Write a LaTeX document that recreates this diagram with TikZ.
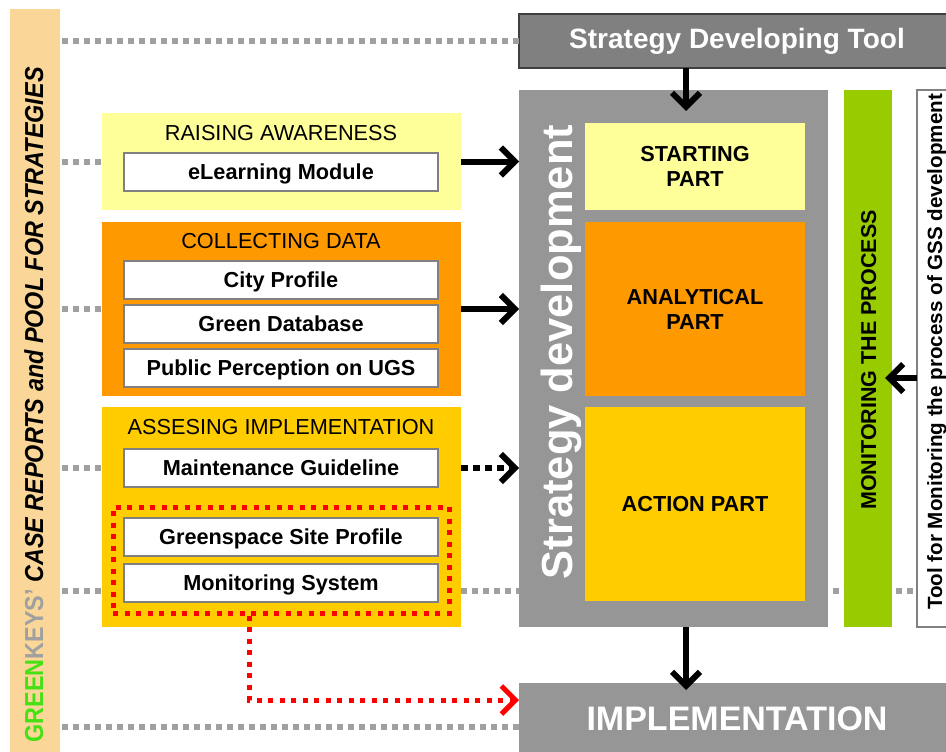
\documentclass[tikz,border=0pt]{standalone}
\usepackage{fontspec}
\setmainfont{Liberation Sans}
\usetikzlibrary{arrows.meta}
\usetikzlibrary{positioning}
\usetikzlibrary{fit}

\definecolor{poolC}{RGB}{250,215,152}
\definecolor{paleC}{RGB}{255,255,153}
\definecolor{orangeC}{RGB}{255,153,0}
\definecolor{goldC}{RGB}{255,204,0}
\definecolor{limeC}{RGB}{153,204,0}
\definecolor{panelgrey}{RGB}{150,150,150}
\definecolor{toolgrey}{RGB}{128,128,128}
\definecolor{edgegrey}{RGB}{64,64,64}
\definecolor{dotgrey}{RGB}{160,160,160}
\definecolor{greenkC}{RGB}{70,225,20}

\begin{document}
\begin{tikzpicture}[x=1pt, y=-1pt,
	lbl/.style={font=\fontsize{21.7}{25}\selectfont},
	blbl/.style={font=\fontsize{21.7}{25}\selectfont\bfseries},
	panel/.style={anchor=north west, inner sep=0pt, outer sep=0pt},
	entry/.style={panel, draw=toolgrey, line width=1.2pt, fill=white, minimum width=314pt, minimum height=38pt, blbl, text height=15.5pt, text depth=0pt},
	part/.style={panel, minimum width=220pt, blbl, align=center},
	feed/.style={line width=6pt, -{Straight Barb[length=14pt,width=28pt]}},
	greydots/.style={draw=dotgrey, line width=6pt, dash pattern=on 6pt off 5pt},
	reddots/.style={draw=red, line width=5pt, dash pattern=on 5pt off 6.5pt},
]

	\useasboundingbox (0,0) rectangle (946,752);

	%helper rows
	\coordinate (axis) at (686,0);
	\coordinate (lowrow) at (0,591);
	\coordinate (baserow) at (0,727);
	\coordinate (toolrow) at (0,378);
	\coordinate (redturn) at (249,700);

	%pool of case reports
	\node[panel, fill=poolC, minimum width=50pt, minimum height=745pt] (pool) at (10,9) {};
	\node[rotate=90, anchor=base, font=\fontsize{26}{28}\selectfont\bfseries] (poolT) at (43,405)
		{\scalebox{0.9}[1]{\textcolor{greenkC}{GREEN}\textcolor{dotgrey}{KEYS’} \textit{CASE REPORTS and POOL FOR STRATEGIES}}};

	%left column
	\node[panel, fill=paleC, minimum width=359pt, minimum height=97pt] (raise) at (102,113) {};
	\node[lbl] (raiseT) at (281,133) {RAISING AWARENESS};
	\node[entry] (elearn) at (124,153) {eLearning Module};

	\node[panel, fill=orangeC, minimum width=359pt, minimum height=174pt] (collect) at (102,222) {};
	\node[lbl] (collectT) at (281,241) {COLLECTING DATA};
	\node[entry] (city) at (124,261) {City Profile};
	\node[entry, below=6pt of city.south west, anchor=north west] (gdb) {Green Database};
	\node[entry, below=6pt of gdb.south west, anchor=north west] (percept) {Public Perception on UGS};

	\node[panel, fill=goldC, minimum width=359pt, minimum height=220pt] (assess) at (102,407) {};
	\node[lbl] (assessT) at (281,427) {ASSESING IMPLEMENTATION};
	\node[entry] (maint) at (124,449) {Maintenance Guideline};
	\node[entry] (site) at (124,518) {Greenspace Site Profile};
	\node[entry, below=8pt of site.south west, anchor=north west] (monit) {Monitoring System};
	\node[reddots, fit=(site)(monit), inner xsep=11pt, inner ysep=11pt] (grp) {};

	%strategy developing tool
	\node[panel, fill=toolgrey, draw=edgegrey, line width=1.5pt, minimum width=436pt, minimum height=54pt,
		text=white, font=\fontsize{28}{30}\selectfont\bfseries] (sdt) at (519,14) {Strategy Developing Tool};

	%strategy development
	\node[panel, fill=panelgrey, minimum width=309pt, minimum height=537pt] (sd) at (519,90) {};
	\node[rotate=90, anchor=base, text=white, font=\fontsize{43.5}{46}\selectfont\bfseries] (sdT) at (572,352) {Strategy development};
	\node[part, fill=paleC, minimum height=87pt] (start) at (585,123) {STARTING\\PART};
	\node[part, fill=orangeC, minimum height=174pt] (analyt) at (585,222) {ANALYTICAL\\PART};
	\node[part, fill=goldC, minimum height=194pt] (action) at (585,407) {ACTION PART};

	%monitoring
	\node[panel, fill=limeC, minimum width=48pt, minimum height=537pt] (mon) at (844,90) {};
	\node[rotate=90, anchor=base, font=\fontsize{21.5}{24}\selectfont\bfseries] (monT) at (876,360) {MONITORING THE PROCESS};
	\node[panel, fill=white, draw=toolgrey, line width=1.2pt, minimum width=40pt, minimum height=537pt] (tool) at (917,90) {};
	\node[rotate=90, anchor=base, font=\fontsize{20.6}{23}\selectfont\bfseries] (toolT) at (942,352) {Tool for Monitoring the process of GSS development};

	%implementation
	\node[panel, fill=panelgrey, minimum width=436pt, minimum height=72pt,
		text=white, font=\fontsize{34}{36}\selectfont\bfseries] (impl) at (519,683) {IMPLEMENTATION};

	%dotted grey links
	\draw[greydots] (pool.east |- sdt.west) ++(2,0) -- (sdt.west);
	\draw[greydots] (pool.east |- raise.west) ++(2,0) -- (raise.west);
	\draw[greydots] (pool.east |- collect.west) ++(2,0) -- (collect.west);
	\draw[greydots] (pool.east |- maint.west) ++(2,0) -- (assess.west |- maint.west);
	\draw[greydots] (pool.east |- lowrow) ++(2,0) -- (assess.west |- lowrow);
	\draw[greydots] (assess.east |- lowrow) -- (sd.west |- lowrow);
	\draw[greydots] (sd.east |- lowrow) ++(5,0) -- (mon.west |- lowrow);
	\draw[greydots] (mon.east |- lowrow) ++(4,0) -- (tool.west |- lowrow);
	\draw[greydots] (pool.east |- baserow) ++(2,0) -- (impl.west |- baserow);

	%flows
	\draw[feed] (raise.east) -- (raise.east -| sd.west);
	\draw[feed] (collect.east) -- (collect.east -| sd.west);
	\draw[feed, dash pattern=on 7pt off 5pt] (assess.east |- maint.east) -- (sd.west |- maint.east);
	\draw[feed] (sdt.south -| axis) -- ++(0,43);
	\draw[feed] (sd.south -| axis) -- ++(0,63);
	\draw[feed] (tool.west |- toolrow) -- ++(-32,0);
	\draw[reddots, -{Straight Barb[length=14pt,width=28pt]}] (grp.south -| redturn) -- (redturn) -- (impl.west |- redturn);

\end{tikzpicture}
\end{document}
